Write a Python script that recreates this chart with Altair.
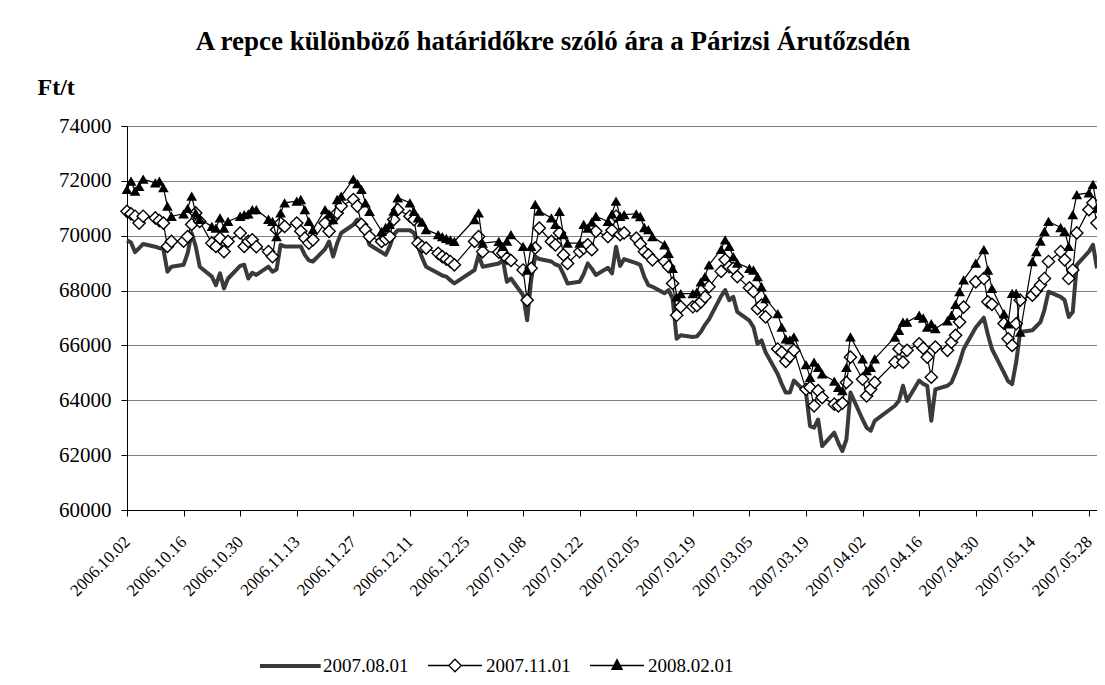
import altair as alt
import pandas as pd

SERIES = ["2007.08.01", "2007.11.01", "2008.02.01"]

TITLE = "A repce különböző határidőkre szóló ára a Párizsi Árutőzsdén"
UNIT = "Ft/t"

X_TICK_LABELS = ["2006.10.02", "2006.10.16", "2006.10.30", "2006.11.13", "2006.11.27",
                 "2006.12.11", "2006.12.25", "2007.01.08", "2007.01.22", "2007.02.05",
                 "2007.02.19", "2007.03.05", "2007.03.19", "2007.04.02", "2007.04.16",
                 "2007.04.30", "2007.05.14", "2007.05.28"]
Y_TICKS = [60000, 62000, 64000, 66000, 68000, 70000, 72000, 74000]

# trading days per month
OCT_DAYS = [2, 3, 4, 5, 6, 9, 10, 11, 12, 13, 16, 17, 18, 19, 20, 23, 24, 25, 26, 27, 30, 31]
NOV_DAYS = [1, 2, 3, 6, 7, 8, 9, 10, 13, 14, 15, 16, 17, 20, 21, 22, 23, 24, 27, 28, 29, 30]
DEC_DAYS = [1, 4, 5, 6, 7, 8, 11, 12, 13, 14, 15, 18, 19, 20, 21, 22, 27, 28, 29]
JAN_DAYS = [2, 3, 4, 5, 8, 9, 10, 11, 12, 15, 16, 17, 18, 19, 22, 23, 24, 25, 26, 29, 30, 31]
FEB_DAYS = [1, 2, 5, 6, 7, 8, 9, 12, 13, 14, 15, 16, 19, 20, 21, 22, 23, 26, 27, 28]
MAR_DAYS = [1, 2, 5, 6, 7, 8, 9, 12, 13, 14, 15, 16, 19, 20, 21, 22, 23, 26, 27, 28, 29, 30]
APR_DAYS = [2, 3, 4, 5, 10, 11, 12, 13, 16, 17, 18, 19, 20, 23, 24, 25, 26, 27, 30]
MAY_DAYS = [2, 3, 4, 7, 8, 9, 10, 11, 14, 15, 16, 17, 18, 21, 22, 23, 24, 25, 28, 29, 30]

# 2007.08.01 contract
S1_OCT = [69830, 69750, 69400, 69550, 69700, 69600, 69550, 69510, 68690, 68870, 68940, 69360,
          70100, 69610, 68870, 68510, 68200, 68630, 68080, 68440, 68900, 68940]
S1_NOV = [68440, 68650, 68570, 68870, 68690, 68770, 69670, 69610, 69610, 69610, 69300, 69100,
          69060, 69510, 69790, 69240, 69730, 70100, 70400, 70590, 70280, 70100]
S1_DEC = [69670, 69400, 69300, 69610, 70040, 70200, 70200, 70100, 69610, 69200, 68870, 68630,
          68550, 68510, 68380, 68260, 68750, 69300, 68870]
S1_JAN = [68990, 69120, 68320, 68440, 67830, 66920, 68390, 69240, 69150, 69060, 68950, 68900,
          68600, 68260, 68320, 68600, 68990, 68800, 68570, 68830, 68630, 69600]
S1_FEB = [68900, 69150, 69000, 68940, 68500, 68200, 68140, 67900, 68020, 67710, 66240, 66370,
          66310, 66330, 66500, 66750, 66950, 67800, 68020, 67650]
S1_MAR = [67770, 67220, 66900, 66670, 66060, 66180, 65750, 64960, 64590, 64280, 64280, 64720,
          64280, 63060, 63000, 63300, 62330, 62820, 62450, 62150, 62570, 64280]
S1_APR = [63300, 63000, 62890, 63250, 63800, 63980, 64530, 63980, 64720, 64600, 64530, 63250,
          64400, 64530, 64650, 65000, 65390, 65870, 66650]
S1_MAY = [67010, 66400, 65870, 65000, 64700, 64590, 65390, 66490, 66550, 66700, 66850, 67300,
          67960, 67770, 67650, 67040, 67220, 68940, 69420, 69670, 68810]

# 2007.11.01 contract
S2_OCT = [70890, 70800, 70710, 70460, 70710, 70650, 70550, 70460, 69610, 69790, 69800, 69970,
          70410, 70830, 70520, 69730, 69610, 69910, 69420, 69790, 70100, 69610]
S2_NOV = [69790, 69850, 69600, 69420, 69240, 70220, 70460, 70340, 70460, 70160, 69910, 69730,
          69850, 70460, 70160, 70650, 70830, 71080, 71320, 71080, 70410, 70220]
S2_DEC = [69970, 69790, 69880, 69970, 70590, 70950, 70710, 70590, 69730, 69600, 69550, 69360,
          69240, 69150, 69060, 68940, 69790, 69970, 69420]
S2_JAN = [69400, 69360, 69180, 69100, 68750, 67650, 68810, 69550, 70280, 69790, 69670, 70100,
          69300, 68990, 69420, 69550, 69670, 69490, 70160, 69970, 70200, 70710]
S2_FEB = [70040, 70100, 69910, 69700, 69420, 69300, 69120, 69060, 68870, 68260, 67100, 67410,
          67410, 67450, 67590, 67770, 68140, 68700, 69120, 68870]
S2_MAR = [68810, 68510, 68100, 67960, 67340, 67470, 67040, 65870, 65750, 65420, 65600, 65820,
          64400, 64470, 63800, 64350, 64100, 63860, 63800, 63900, 64650, 65570]
S2_APR = [64770, 64160, 64400, 64650, 65390, 65870, 65390, 65820, 66060, 65900, 65570, 64840,
          65940, 65820, 66120, 66370, 66850, 67400, 68320]
S2_MAY = [68440, 67590, 67500, 66800, 66240, 66000, 66790, 67650, 67830, 68000, 68200, 68440,
          69060, 69420, 69120, 68440, 68750, 70100, 70950, 71200, 70460]

# 2008.02.01 contract
S3_OCT = [71690, 71990, 71630, 71800, 72060, 71930, 71990, 71750, 71080, 70710, 70800, 71000,
          71440, 70830, 70600, 70340, 70280, 70650, 70280, 70520, 70710, 70770]
S3_NOV = [70800, 70950, 70950, 70600, 70520, 69970, 70830, 71200, 71260, 71320, 70950, 70520,
          70220, 70950, 70800, 70590, 71320, 71440, 72060, 71900, 71690, 71200]
S3_DEC = [70890, 70160, 70300, 70410, 70900, 71380, 71200, 70890, 70650, 70500, 70220, 70040,
          69970, 69900, 69850, 69790, 70590, 70830, 69730]
S3_JAN = [69790, 69610, 69800, 70040, 69610, 68750, 69610, 71140, 70900, 70650, 70410, 70890,
          70040, 69730, 69730, 70410, 70280, 70500, 70710, 70520, 70800, 71260]
S3_FEB = [70710, 70770, 70800, 70700, 70300, 70220, 69970, 69670, 69360, 68810, 67770, 67890,
          67890, 67950, 68320, 68510, 68940, 69500, 69850, 69610]
S3_MAR = [69240, 69000, 68810, 68750, 68510, 68140, 67710, 67160, 66670, 66240, 66200, 66310,
          65300, 64840, 65390, 65200, 64960, 64700, 64470, 64350, 65200, 66310]
S3_APR = [65510, 65080, 65200, 65510, 66300, 66550, 66850, 66850, 67100, 67000, 66670, 66790,
          66610, 66900, 67100, 67500, 67960, 68390, 69000]
S3_MAY = [69490, 68750, 68080, 67160, 66790, 67900, 67900, 66490, 69060, 69420, 69800, 70160,
          70520, 70300, 70160, 69610, 70770, 71500, 71560, 71870, 71000]

MONTHS = [("2006-10", OCT_DAYS), ("2006-11", NOV_DAYS), ("2006-12", DEC_DAYS),
          ("2007-01", JAN_DAYS), ("2007-02", FEB_DAYS), ("2007-03", MAR_DAYS),
          ("2007-04", APR_DAYS), ("2007-05", MAY_DAYS)]
DATES = [f"{ym}-{d:02d}" for ym, days in MONTHS for d in days]

S1 = S1_OCT + S1_NOV + S1_DEC + S1_JAN + S1_FEB + S1_MAR + S1_APR + S1_MAY
S2 = S2_OCT + S2_NOV + S2_DEC + S2_JAN + S2_FEB + S2_MAR + S2_APR + S2_MAY
S3 = S3_OCT + S3_NOV + S3_DEC + S3_JAN + S3_FEB + S3_MAR + S3_APR + S3_MAY

rows = []
for name, vals in zip(SERIES, [S1, S2, S3]):
    for d, v in zip(DATES, vals):
        rows.append({"date": d, "series": name, "value": v})
df = pd.DataFrame(rows)

FONT = "Liberation Serif"


def to_dt(lbl):
    y, m, d = lbl.split(".")
    return alt.DateTime(year=int(y), month=int(m), date=int(d), utc=True)


x_enc = alt.X(
    "date:T",
    scale=alt.Scale(type="utc", domain=[to_dt("2006.10.02"), to_dt("2007.05.30")], nice=False),
    axis=alt.Axis(
        values=[to_dt(t) for t in X_TICK_LABELS],
        labelExpr="utcFormat(datum.value, '%Y.%m.%d')",
        labelAngle=-45, labelAlign="right", labelBaseline="middle", labelPadding=23,
        labelOverlap=False, labelFlush=False, labelFont=FONT, labelFontSize=17,
        labelColor="black", tickSize=6, tickColor="black", domainColor="black",
        grid=False, title=None,
    ),
)
y_enc = alt.Y(
    "value:Q",
    scale=alt.Scale(domain=[60000, 74000], nice=False, zero=False),
    axis=alt.Axis(
        values=Y_TICKS, format="d", grid=True, gridColor="#808080", gridWidth=1,
        tickSize=6, tickColor="black", domainColor="black", labelPadding=10,
        labelFont=FONT, labelFontSize=21, labelColor="black",
        title=UNIT, titleAngle=0, titleX=-90, titleY=-39, titleAlign="left",
        titleBaseline="middle", titleFont=FONT, titleFontSize=24, titleFontWeight="bold",
        titleColor="black",
    ),
)

base = alt.Chart(df).encode(x=x_enc, y=y_enc)

line1 = base.transform_filter(alt.datum.series == SERIES[0]).mark_line(
    color="#3a3a3a", strokeWidth=4, strokeJoin="round")
line2 = base.transform_filter(alt.datum.series == SERIES[1]).mark_line(
    color="black", strokeWidth=1.2)
pts2 = base.transform_filter(alt.datum.series == SERIES[1]).mark_point(
    shape="diamond", size=150, filled=True, fill="white", stroke="black",
    strokeWidth=1.4, opacity=1)
line3 = base.transform_filter(alt.datum.series == SERIES[2]).mark_line(
    color="black", strokeWidth=1.2)
pts3 = base.transform_filter(alt.datum.series == SERIES[2]).mark_point(
    shape="triangle-up", size=115, filled=True, color="black", opacity=1)

LEG_SHAPES = [
    "M-1.15,0H1.1",
    "M-1,0H-0.23M0.23,0H1M0,-0.23L0.23,0L0,0.23L-0.23,0Z",
    "M-1,0H1M0,-0.22L0.19,0.14L-0.19,0.14Z",
]
legend = alt.Legend(
    orient="none", legendX=135, legendY=511, direction="horizontal", title=None,
    symbolSize=2916, labelFont=FONT, labelFontSize=19, labelColor="black",
    labelOffset=3, columnPadding=16, padding=0,
)
legend_layer = alt.Chart(df).transform_filter("datum.value < 0").mark_point(
    filled=False, opacity=1).encode(
    shape=alt.Shape("series:N", scale=alt.Scale(domain=SERIES, range=LEG_SHAPES), legend=legend),
    fill=alt.Fill("series:N", scale=alt.Scale(domain=SERIES, range=["#3a3a3a", "white", "black"]),
                  legend=legend),
    stroke=alt.Stroke("series:N", scale=alt.Scale(domain=SERIES, range=["#3a3a3a", "black", "black"]),
                      legend=legend),
    strokeWidth=alt.StrokeWidth("series:N", scale=alt.Scale(type="ordinal", domain=SERIES, range=[4, 1.3, 1.3]),
                                legend=legend),
)

chart = alt.layer(line1, line2, pts2, line3, pts3, legend_layer).properties(
    width=970, height=384,
    autosize=alt.AutoSizeParams(type="none"),
    padding={"left": 119, "top": 118, "right": 0, "bottom": 167},
    title=alt.TitleParams(TITLE, font=FONT, fontSize=27, fontWeight="bold", color="black",
                          anchor="middle", dx=-59, dy=26, offset=18, baseline="bottom"),
    background="white",
).configure_view(stroke="#808080", strokeWidth=1)

chart.save("out.html", embed_options={"renderer": "svg", "actions": False})
